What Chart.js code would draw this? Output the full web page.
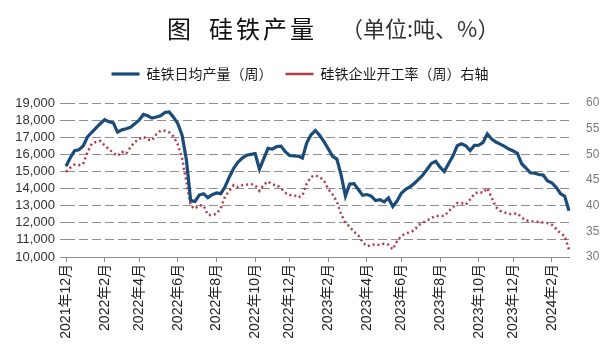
<!DOCTYPE html>
<html>
<head>
<meta charset="utf-8">
<script src="https://cdn.jsdelivr.net/npm/chart.js@4/dist/chart.umd.min.js"></script>
<style>
  body { margin: 0; background: #fff; }
  #chart { display: block; }
</style>
</head>
<body>
<canvas id="chart" width="600" height="354"></canvas>
<script>
// weekly series, first observation in the first week of Dec 2021
const firstWeek = Date.UTC(2021, 11, 3)

// 硅铁日均产量（周）, tons/day
const dailyOutput = [
  15300, 15800, 16220, 16270, 16490, 17020, 17290, 17545, 17800, 18020,
  17900, 17840, 17300, 17430, 17490, 17580, 17780, 18000, 18330, 18250,
  18120, 18180, 18255, 18450, 18480, 18170, 17800, 17120, 15680, 13290,
  13250, 13620, 13700, 13470, 13640, 13740, 13700, 14100, 14680, 15180,
  15540, 15780, 15950, 16000, 16040, 15130, 15750, 16350, 16310, 16450,
  16480, 16150, 15930, 15905, 15900, 15790, 16670, 17140, 17390, 17110,
  16740, 16330, 15880, 15720, 14780, 13560, 14270, 14290, 13940, 13610,
  13650, 13560, 13300, 13350, 13220, 13450, 12950, 13270, 13730, 13950,
  14100, 14300, 14540, 14790, 15130, 15470, 15590, 15250, 14990, 15460,
  15900, 16500, 16620, 16500, 16220, 16520, 16530, 16700, 17200, 16900,
  16720, 16600, 16470, 16310, 16200, 16050, 15450, 15200, 14920, 14900,
  14820, 14790, 14440, 14330, 14080, 13710, 13550, 12700
]

// 硅铁企业开工率（周）, %, right axis
const operatingRate = [
  46.6, 47.4, 48.0, 47.9, 48.1, 50.4, 52.1, 52.4, 52.6, 51.7,
  51.0, 50.3, 49.7, 50.5, 50.1, 51.4, 52.4, 53.0, 53.4, 52.9,
  52.7, 53.9, 54.6, 54.6, 54.3, 53.5, 51.9, 49.2, 44.7, 40.0,
  39.4, 40.1, 40.0, 38.2, 38.2, 38.4, 39.5, 41.8, 42.9, 44.0,
  43.6, 44.0, 44.1, 44.2, 44.0, 42.9, 44.1, 44.7, 44.1, 44.0,
  43.4, 42.5, 42.1, 42.1, 41.6, 42.0, 44.3, 45.6, 45.9, 45.6,
  44.9, 43.2, 42.2, 40.8, 38.3, 36.7, 35.9, 34.9, 34.2, 32.9,
  32.1, 32.3, 32.5, 32.3, 32.6, 32.4, 31.5, 33.1, 34.1, 34.6,
  34.8, 35.2, 36.2, 36.7, 37.1, 37.6, 38.0, 38.0, 38.0, 38.9,
  39.7, 40.5, 40.5, 40.2, 41.2, 42.3, 42.7, 42.5, 43.4, 41.6,
  39.7, 39.0, 38.7, 38.4, 38.4, 38.5, 37.7, 37.1, 37.0, 36.9,
  36.8, 36.7, 36.6, 36.3, 35.5, 34.6, 34.1, 31.4
]

const tickMonths = [
  "2021年12月", "2022年2月", "2022年4月", "2022年6月", "2022年8月",
  "2022年10月", "2022年12月", "2023年2月", "2023年4月", "2023年6月",
  "2023年8月", "2023年10月", "2023年12月", "2024年2月"
]

const weeks = dailyOutput.map((v, i) => new Date(firstWeek + i * 7 * 86400000))
const labels = weeks.map((d) => d.toISOString().slice(0, 10))

function monthLabel(index) {
  const d = weeks[index]
  if (!d || d.getUTCDate() > 7) return ""
  const text = d.getUTCFullYear() + "年" + (d.getUTCMonth() + 1) + "月"
  return tickMonths.includes(text) ? text : ""
}

const cjk = '"Noto Sans CJK SC", sans-serif'
const latin = '"Liberation Sans", "Noto Sans CJK SC", sans-serif'

// title drawn on the canvas
const titlePlugin = {
  id: "titleText",
  afterDraw(chart) {
    const ctx = chart.ctx
    ctx.save()
    ctx.textBaseline = "middle"
    ctx.textAlign = "left"
    ctx.fillStyle = "#111"
    ctx.font = "24px " + cjk
    ctx.fillText("图", 167, 29)
    const main = "硅铁产量"
    for (let i = 0; i < main.length; i++) {
      ctx.fillText(main[i], 209 + i * 27, 29)
    }
    ctx.fillStyle = "#333"
    ctx.font = "22px " + cjk
    ctx.fillText("（单位:吨、%）", 341, 29)
    ctx.restore()
  }
}

// extra room between legend and plot
const legendGap = {
  id: "legendGap",
  beforeInit(chart) {
    const fit = chart.legend.fit
    chart.legend.fit = function () {
      fit.call(this)
      this.height += 12
    }
  }
}

new Chart(document.getElementById("chart"), {
  type: "line",
  data: {
    labels: labels,
    datasets: [
      {
        label: "硅铁日均产量（周）",
        data: dailyOutput,
        yAxisID: "y",
        borderColor: "#1b4b78",
        borderWidth: 3.2,
        pointRadius: 0
      },
      {
        label: "硅铁企业开工率（周）右轴",
        data: operatingRate,
        yAxisID: "y1",
        borderColor: "#b03a48",
        borderWidth: 2.5,
        borderDash: [2, 3],
        pointRadius: 0
      }
    ]
  },
  options: {
    responsive: false,
    animation: false,
    devicePixelRatio: 1,
    layout: { padding: { top: 54 } },
    plugins: {
      tooltip: { enabled: false },
      legend: {
        position: "top",
        labels: {
          usePointStyle: true,
          pointStyle: "line",
          pointStyleWidth: 28,
          padding: 13,
          color: "#1a1a1a",
          font: { family: cjk, size: 14 }
        }
      }
    },
    scales: {
      x: {
        offset: false,
        afterFit(scale) { scale.height = 97 },
        grid: {
          color: "rgba(0,0,0,0)",
          drawOnChartArea: false,
          tickLength: 5,
          tickColor: (c) => monthLabel(c.index) ? "#8c8c8c" : "rgba(0,0,0,0)"
        },
        border: { display: true, color: "#8c8c8c", width: 1 },
        ticks: {
          autoSkip: false,
          minRotation: 90,
          maxRotation: 90,
          padding: 2,
          color: "#222",
          font: { family: latin, size: 14 },
          callback: (value, index) => monthLabel(index)
        }
      },
      y: {
        position: "left",
        min: 10000,
        max: 19000,
        afterFit(scale) { scale.width = 66 },
        ticks: {
          autoSkip: false,
          stepSize: 1000,
          padding: 5,
          color: "#333",
          font: { family: latin, size: 13 },
          callback: (v) => v.toLocaleString("en-US")
        },
        grid: { color: "#8f8f8f", tickLength: 6, tickColor: "#8f8f8f" },
        border: { display: false, dash: [9, 4] }
      },
      y1: {
        position: "right",
        min: 30,
        max: 60,
        afterFit(scale) { scale.width = 31 },
        ticks: {
          autoSkip: false,
          stepSize: 5,
          padding: 9,
          color: "#7a7a7a",
          font: { family: latin, size: 12 }
        },
        grid: { display: false },
        border: { display: false }
      }
    }
  },
  plugins: [titlePlugin, legendGap]
})
</script>
</body>
</html>
